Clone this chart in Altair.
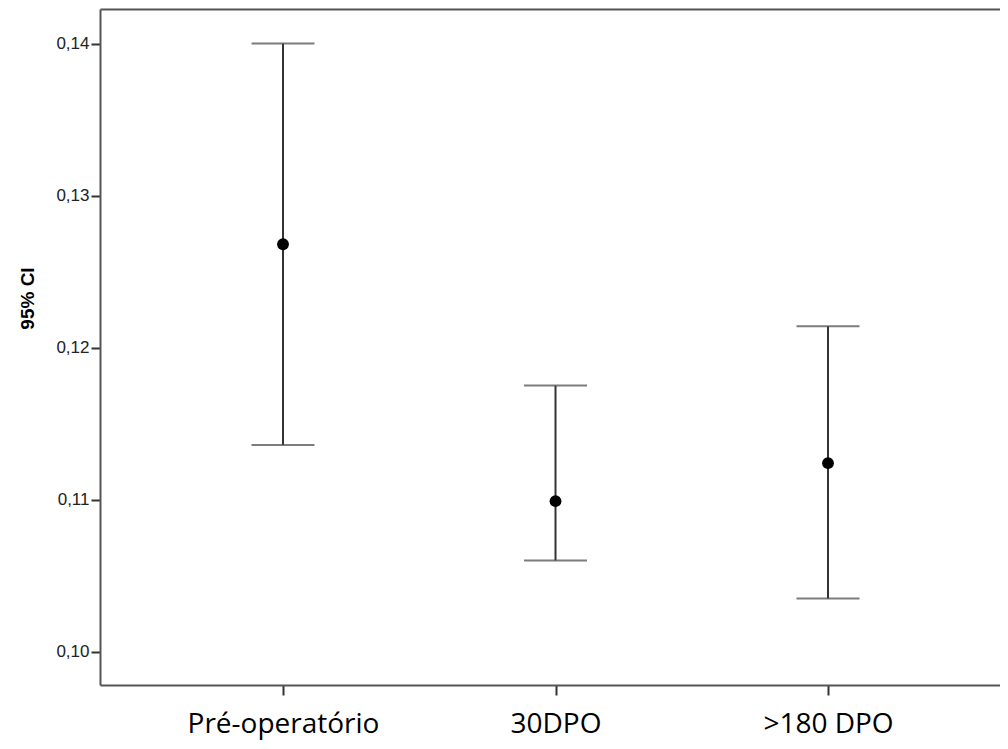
import altair as alt
import pandas as pd

groups = ["Pré-operatório", "30DPO", ">180 DPO"]
means = [0.1268, 0.1099, 0.1124]
lowers = [0.1136, 0.1060, 0.1035]
uppers = [0.1400, 0.1175, 0.1214]
y_ticks = [0.10, 0.11, 0.12, 0.13, 0.14]

df = pd.DataFrame({
    "idx": list(range(len(groups))),
    "group": groups,
    "mean": means,
    "lower": lowers,
    "upper": uppers,
})

label_expr = "[" + ",".join(f"'{g}'" for g in groups) + "][datum.value]"

x_scale = alt.Scale(domain=[-0.6716, 2.6312], nice=False, zero=False)
y_scale = alt.Scale(domain=[0.09781, 0.14227], nice=False, zero=False)

bottom_axis = alt.Axis(
    orient="bottom", title=None, values=list(range(len(groups))), labelExpr=label_expr,
    labelAngle=0, labelFont="Open Sans", labelFontSize=28, labelColor="black",
    labelPadding=15, labelLimit=500, labelFlush=False, labelOverlap=False,
    tickSize=10, tickWidth=2, tickColor="#333", domainColor="#555",
    domainWidth=2, grid=False,
)
top_axis = alt.Axis(
    orient="top", labels=False, ticks=False, title=None,
    domainColor="#555", domainWidth=2, grid=False,
)
y_axis = alt.Axis(
    orient="left", title="95% CI", values=y_ticks,
    labelExpr="replace(format(datum.value, '.2f'), '.', ',')",
    labelFont="Liberation Sans", labelFontSize=17, labelColor="#222", labelPadding=2,
    tickSize=9, tickWidth=2, tickColor="#333", domainColor="#555", domainWidth=2,
    grid=False, titleFont="Liberation Sans", titleFontWeight="bold", titleFontSize=19,
    titleColor="black", titleAngle=270, titleX=-73, titleY=289, titleAlign="center",
    titleBaseline="middle",
)

base = alt.Chart(df)


def xb():
    return alt.X("idx:Q", scale=x_scale, axis=bottom_axis)


def yq(field):
    return alt.Y(f"{field}:Q", scale=y_scale, axis=y_axis)


rule = base.mark_rule(color="#333", strokeWidth=2).encode(
    x=xb(), y=yq("lower"), y2="upper:Q"
)
cap_lo = base.mark_tick(color="#444", thickness=2, size=63, orient="horizontal").encode(
    x=xb(), y=yq("lower")
)
cap_hi = base.mark_tick(color="#444", thickness=2, size=63, orient="horizontal").encode(
    x=xb(), y=yq("upper")
)
pts = base.mark_point(filled=True, color="black", opacity=1, size=140, shape="circle").encode(
    x=xb(), y=yq("mean")
)

inner = alt.layer(rule, cap_lo, cap_hi, pts)

top = base.mark_point(opacity=0).encode(
    x=alt.X("idx:Q", scale=x_scale, axis=top_axis),
    y=yq("mean"),
)

chart = (
    alt.layer(inner, top)
    .resolve_axis(x="independent")
    .properties(
        width=900, height=676, background="white",
        padding={"left": 92, "top": 1, "right": 0, "bottom": 60},
        autosize=alt.AutoSizeParams(type="none"),
    )
    .configure_view(strokeWidth=0, stroke="transparent")
)

chart.save("out.html", embed_options={"renderer": "svg", "actions": False})
